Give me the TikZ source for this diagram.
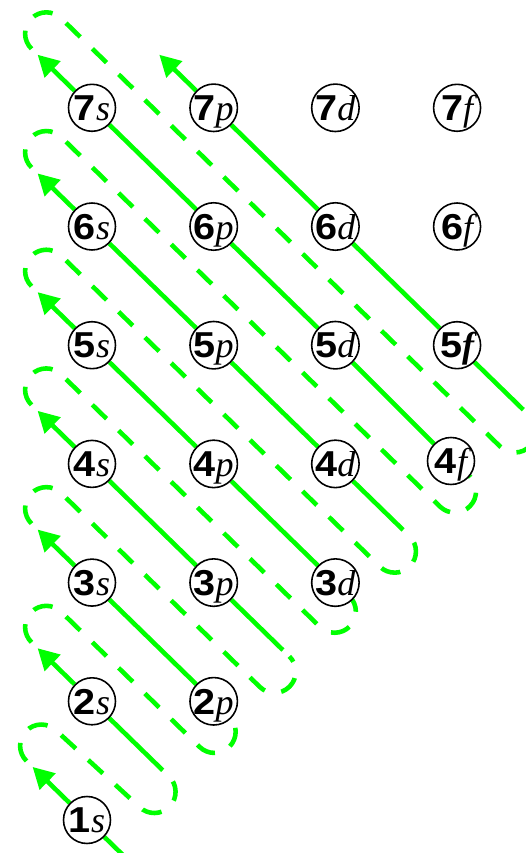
\documentclass[tikz,border=0pt]{standalone}
\usepackage{fontspec}
\newfontfamily\digitfont{Liberation Sans}[FakeStretch=1.1]
\newfontfamily\letterfont{Liberation Serif}
\usepackage{xcolor}
\definecolor{elgreen}{RGB}{0,255,0}
\usetikzlibrary{arrows.meta, calc, backgrounds}

\newcommand{\orb}[2]{{\digitfont\bfseries #1}{\letterfont\itshape #2}}

\begin{document}
\begin{tikzpicture}[x=0.02cm, y=0.02cm,
  orbital/.style={circle, draw=black, line width=0.9pt, fill=white, minimum size=0.94cm,
    inner sep=0pt, font=\fontsize{20.5}{22}\selectfont, text height=14.5pt, text depth=0pt},
  diag/.style={elgreen, line width=2.6pt, -{Triangle[length=12pt, width=12.5pt]}},
  hop/.style={elgreen, line width=2.6pt, dash pattern=on 11.3pt off 9.6pt}]

\useasboundingbox (0,0) rectangle (526,853);

% --- Row 1 and 2 ---
\node[orbital] (n1s) at (87,33) {\orb{1}{s}};
\node[orbital] (n2s) at (92,151.7) {\orb{2}{s}};
\node[orbital] (n2p) at (213.7,151.7) {\orb{2}{p}};

% --- Row 3 ---
\node[orbital] (n3s) at (92,270.4) {\orb{3}{s}};
\node[orbital] (n3p) at (213.7,270.4) {\orb{3}{p}};
\node[orbital] (n3d) at (335.4,270.4) {\orb{3}{d}};

% --- Row 4 ---
\node[orbital] (n4s) at (92,389.1) {\orb{4}{s}};
\node[orbital] (n4p) at (213.7,389.1) {\orb{4}{p}};
\node[orbital] (n4d) at (335.4,389.1) {\orb{4}{d}};
\node[orbital] (n4f) at (451,392) {\orb{4}{f}};

% --- Row 5 ---
\node[orbital] (n5s) at (92,507.8) {\orb{5}{s}};
\node[orbital] (n5p) at (213.7,507.8) {\orb{5}{p}};
\node[orbital] (n5d) at (335.4,507.8) {\orb{5}{d}};
\node[orbital] (n5f) at (457.1,507.8) {\orb{5}{\bfseries f}};

% --- Row 6 ---
\node[orbital] (n6s) at (92,626.5) {\orb{6}{s}};
\node[orbital] (n6p) at (213.7,626.5) {\orb{6}{p}};
\node[orbital] (n6d) at (335.4,626.5) {\orb{6}{d}};
\node[orbital] (n6f) at (457.1,626.5) {\orb{6}{f}};

% --- Row 7 ---
\node[orbital] (n7s) at (92,745.2) {\orb{7}{s}};
\node[orbital] (n7p) at (213.7,745.2) {\orb{7}{p}};
\node[orbital] (n7d) at (335.4,745.2) {\orb{7}{d}};
\node[orbital] (n7f) at (457.1,745.2) {\orb{7}{f}};

% arrow tips, up-left of the top orbital of each diagonal
\coordinate (t1) at ($(n1s)+(135.71:76)$);
\coordinate (t2) at ($(n2s)+(135.71:76)$);
\coordinate (t3) at ($(n3s)+(135.71:76)$);
\coordinate (t4) at ($(n4s)+(135.71:76)$);
\coordinate (t5) at ($(n5s)+(135.71:76)$);
\coordinate (t6) at ($(n6s)+(135.71:76)$);
\coordinate (t7) at ($(n7s)+(135.71:76)$);
\coordinate (t8) at ($(n7p)+(135.71:76)$);

% lower ends, all on one cut line
\coordinate (cutA) at (0,-80);
\coordinate (cutB) at (600,520);
\coordinate (floorA) at (0,-10);
\coordinate (floorB) at (600,-10);
\coordinate (e1) at (intersection of n1s--t1 and floorA--floorB);
\coordinate (e2) at (intersection of n2s--t2 and cutA--cutB);
\coordinate (e3) at (intersection of n3s--t3 and cutA--cutB);
\coordinate (e4) at (intersection of n4s--t4 and cutA--cutB);
\coordinate (e5) at (intersection of n5s--t5 and cutA--cutB);
\coordinate (e6) at (intersection of n6s--t6 and cutA--cutB);
\coordinate (e7) at (intersection of n7s--t7 and cutA--cutB);
\coordinate (e8) at (intersection of n7p--t8 and cutA--cutB);

\begin{scope}[on background layer]
\clip (0,0) rectangle (526,853);

% --- Filling order ---
\draw[diag] (e1) -- (n1s) -- (t1);
\draw[diag] (e2) -- (n2s) -- (t2);
\draw[diag] (n2p) -- (n3s) -- (t3);
\draw[diag] (e4) -- (n3p) -- (n4s) -- (t4);
\draw[diag] (n3d) -- (n4p) -- (n5s) -- (t5);
\draw[diag] (e6) -- (n4d) -- (n5p) -- (n6s) -- (t6);
\draw[diag] (n4f) -- (n5d) -- (n6p) -- (n7s) -- (t7);
\draw[diag] (e8) -- (n5f) -- (n6d) -- (n7p) -- (t8);

% --- Jumps back to the next diagonal ---
\draw[hop] ($(t1)+(135.71:8.5)$) arc[start angle=225.71, end angle=45.71, radius=21.25]
  -- ($(e2)+(-44.29:9)+(225.71:42.5)$) arc[start angle=225.71, end angle=405.71, radius=21.25];
\draw[hop] ($(t2)+(135.71:8.5)$) arc[start angle=225.71, end angle=45.71, radius=21.25]
  -- ($(e3)+(-44.29:9)+(225.71:42.5)$) arc[start angle=225.71, end angle=405.71, radius=21.25];
\draw[hop] ($(t3)+(135.71:8.5)$) arc[start angle=225.71, end angle=45.71, radius=21.25]
  -- ($(e4)+(-44.29:9)+(225.71:42.5)$) arc[start angle=225.71, end angle=405.71, radius=21.25];
\draw[hop] ($(t4)+(135.71:8.5)$) arc[start angle=225.71, end angle=45.71, radius=21.25]
  -- ($(e5)+(-44.29:9)+(225.71:42.5)$) arc[start angle=225.71, end angle=405.71, radius=21.25];
\draw[hop] ($(t5)+(135.71:8.5)$) arc[start angle=225.71, end angle=45.71, radius=21.25]
  -- ($(e6)+(-44.29:9)+(225.71:42.5)$) arc[start angle=225.71, end angle=405.71, radius=21.25];
\draw[hop] ($(t6)+(135.71:8.5)$) arc[start angle=225.71, end angle=45.71, radius=21.25]
  -- ($(e7)+(-44.29:9)+(225.71:42.5)$) arc[start angle=225.71, end angle=405.71, radius=21.25];
\draw[hop] ($(t7)+(135.71:8.5)$) arc[start angle=225.71, end angle=45.71, radius=21.25]
  -- ($(e8)+(-44.29:9)+(225.71:42.5)$) arc[start angle=225.71, end angle=405.71, radius=21.25];
\end{scope}

\end{tikzpicture}
\end{document}
